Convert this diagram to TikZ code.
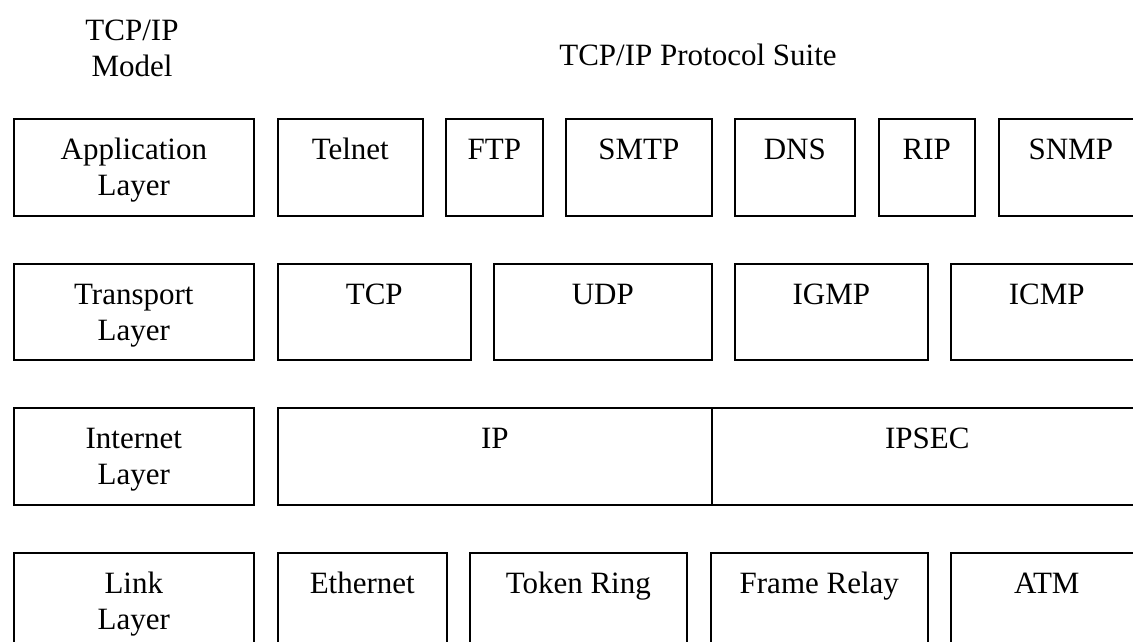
\documentclass[tikz,border=0pt]{standalone}
\usepackage{fontspec}
\setmainfont{Liberation Serif}
\tikzset{
  layerbox/.style={draw=black, line width=1.6pt, rectangle, inner sep=0pt},
  lbl/.style={font=\fontsize{31}{36.7}\selectfont, align=center, anchor=base, inner sep=0pt, text=black},
}
% one cell: [baseline of the last text line below the top], name, left, top, right, bottom, label
\newcommand{\protocell}[7][41]{%
  \node[layerbox, anchor=north west, minimum width={#5-#3}, minimum height={#6-#4}] (#2) at (#3,#4) {};
  \node[lbl] (#2-t) at ([yshift=-#1pt]#2.north) {#7};
}
\begin{document}
\begin{tikzpicture}[x=1pt, y=-1pt]
  \useasboundingbox[fill=white] (0,0) rectangle (1133,642);
  \clip (0,0) rectangle (1133,642);

  % headings
  \node[lbl] (model) at (132,77) {TCP/IP\\Model};
  \node[lbl] (suite) at (698,66) {TCP/IP Protocol Suite};

  % application layer
  \protocell[77.7]{app}{13}{118}{253}{215}{Application\\Layer}
  \protocell{telnet}{277}{118}{422}{215}{Telnet}
  \protocell{ftp}{445}{118}{542}{215}{FTP}
  \protocell{smtp}{565}{118}{711}{215}{SMTP}
  \protocell{dns}{734}{118}{854}{215}{DNS}
  \protocell{rip}{878}{118}{974}{215}{RIP}
  \protocell{snmp}{998}{118}{1142}{215}{SNMP}

  % transport layer
  \protocell[77.7]{transport}{13}{263}{253}{359}{Transport\\Layer}
  \protocell{tcp}{277}{263}{470}{359}{TCP}
  \protocell{udp}{493}{263}{711}{359}{UDP}
  \protocell{igmp}{734}{263}{927}{359}{IGMP}
  \protocell{icmp}{950}{263}{1142}{359}{ICMP}

  % internet layer
  \protocell[77.7]{internet}{13}{407}{253}{504}{Internet\\Layer}
  \protocell{ip}{277}{407}{711}{504}{IP}
  \protocell{ipsec}{711}{407}{1142}{504}{IPSEC}

  % link layer
  \protocell[77.7]{link}{13}{552}{253}{649}{Link\\Layer}
  \protocell{ethernet}{277}{552}{446}{649}{Ethernet}
  \protocell{tokenring}{469}{552}{686}{649}{Token Ring}
  \protocell{framerelay}{710}{552}{927}{649}{Frame Relay}
  \protocell{atm}{950}{552}{1142}{649}{ATM}
\end{tikzpicture}
\end{document}
